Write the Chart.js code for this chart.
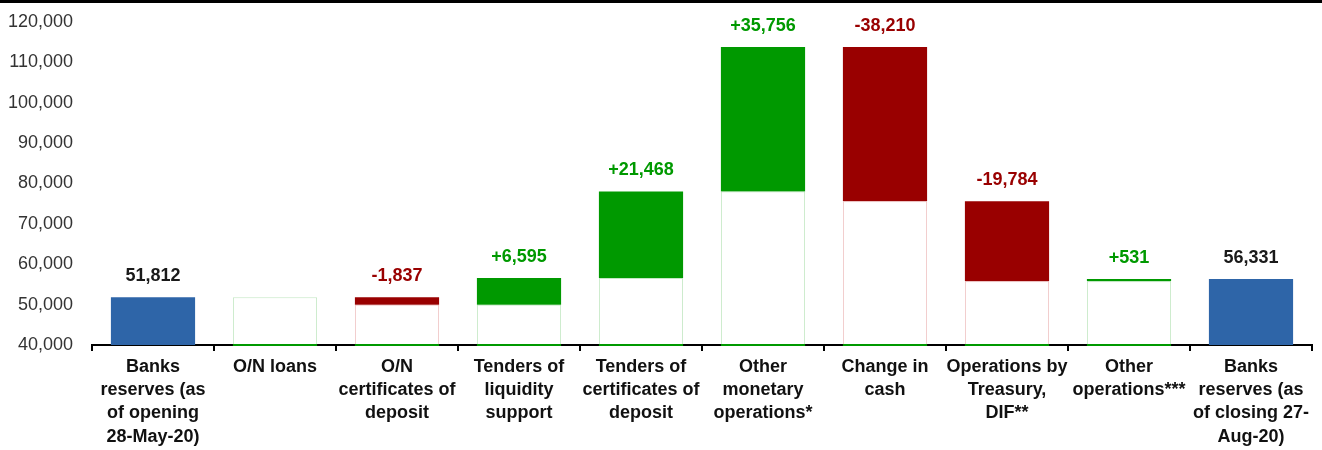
<!DOCTYPE html>
<html>
<head>
<meta charset="utf-8">
<script src="https://cdn.jsdelivr.net/npm/chart.js@4.4.1/dist/chart.umd.min.js"></script>
<style>
  body { margin: 0; background: #fff; }
  #wrap { width: 1322px; height: 447px; border-top: 3px solid #000; }
</style>
</head>
<body>
<div id="wrap"><canvas id="chart" width="1322" height="447"></canvas></div>
<script>
const categories = [
    ['Banks', 'reserves (as', 'of opening', '28-May-20)'],
    ['O/N loans'],
    ['O/N', 'certificates of', 'deposit'],
    ['Tenders of', 'liquidity', 'support'],
    ['Tenders of', 'certificates of', 'deposit'],
    ['Other', 'monetary', 'operations*'],
    ['Change in', 'cash'],
    ['Operations by', 'Treasury,', 'DIF**'],
    ['Other', 'operations***'],
    ['Banks', 'reserves (as', 'of closing 27-', 'Aug-20)']
];
const openingReserves = 51812;
const closingReserves = 56331;
// changes between opening and closing (null = total column)
const changes = [null, 0, -1837, 6595, 21468, 35756, -38210, -19784, 531, null];
const yTicks = [40000, 120000, 10000]; // min, max, step

const GREEN = '#009900', RED = '#990000', BLUE = '#2E65A8';
const FONT = '"Liberation Sans", Arial, Helvetica, sans-serif';

// build waterfall ranges
let level = openingReserves;
const baseData = [], deltaData = [], deltaColors = [], baseBorders = [], labelTexts = [], labelColors = [];
changes.forEach((c, i) => {
    if (c === null) {
        const v = i === 0 ? openingReserves : closingReserves;
        baseData.push(null);
        deltaData.push([yTicks[0], v]);
        deltaColors.push(BLUE);
        baseBorders.push('rgba(0,0,0,0)');
        labelTexts.push(v.toLocaleString('en-US'));
        labelColors.push('#1a1a1a');
    } else {
        const next = level + c;
        const lo = Math.min(level, next), hi = Math.max(level, next);
        baseData.push([yTicks[0], lo]);
        deltaData.push(c === 0 ? null : [lo, hi]);
        deltaColors.push(c < 0 ? RED : GREEN);
        baseBorders.push(c < 0 ? '#f0c4c4' : '#c4e8c4');
        labelTexts.push(c === 0 ? '' : (c > 0 ? '+' : '-') + Math.abs(c).toLocaleString('en-US'));
        labelColors.push(c < 0 ? RED : GREEN);
        level = next;
    }
});

const waterfallLabels = {
    id: 'waterfallLabels',
    afterDatasetsDraw(chart) {
        const ctx = chart.ctx;
        const baseMeta = chart.getDatasetMeta(0);
        const deltaMeta = chart.getDatasetMeta(1);
        ctx.save();
        // dark green line at the foot of the white base bars
        baseMeta.data.forEach((el, i) => {
            if (baseData[i] === null) return;
            ctx.fillStyle = GREEN;
            ctx.fillRect(el.x - el.width / 2, el.base - 1, el.width, 2);
        });
        ctx.font = 'bold 18px ' + FONT;
        ctx.textAlign = 'center';
        ctx.textBaseline = 'alphabetic';
        labelTexts.forEach((t, i) => {
            if (!t) return;
            const el = deltaMeta.data[i];
            const top = Math.min(el.y, el.base);
            ctx.fillStyle = labelColors[i];
            ctx.fillText(t, el.x, top - 16);
        });
        ctx.restore();
    }
};

new Chart(document.getElementById('chart'), {
    type: 'bar',
    data: {
        labels: categories,
        datasets: [
            {
                data: baseData,
                backgroundColor: '#ffffff',
                borderColor: baseBorders,
                borderWidth: 1,
                borderSkipped: false,
                grouped: false,
                categoryPercentage: 1,
                barPercentage: 0.69
            },
            {
                data: deltaData,
                backgroundColor: deltaColors,
                borderWidth: 0,
                grouped: false,
                categoryPercentage: 1,
                barPercentage: 0.69
            }
        ]
    },
    options: {
        responsive: false,
        animation: false,
        layout: { padding: { top: 19, right: 10, left: 0, bottom: 0 } },
        plugins: { legend: { display: false }, tooltip: { enabled: false } },
        scales: {
            x: {
                offset: true,
                grid: { display: true, drawOnChartArea: false, drawTicks: true, tickLength: 6, offset: true, color: '#000', lineWidth: 2 },
                border: { display: true, color: '#000', width: 2 },
                ticks: {
                    color: '#111',
                    font: { family: FONT, size: 18, weight: 'bold', lineHeight: 1.3 },
                    padding: 4,
                    maxRotation: 0,
                    autoSkip: false
                },
                afterFit: s => { s.height = 105; }
            },
            y: {
                min: yTicks[0],
                max: yTicks[1],
                grid: { display: false, drawTicks: false, tickLength: 0 },
                border: { display: false },
                ticks: {
                    stepSize: yTicks[2],
                    color: '#333',
                    padding: 19,
                    font: { family: FONT, size: 18 },
                    callback: v => v.toLocaleString('en-US')
                },
                afterFit: s => { s.width = 92; s.paddingTop = 0; s.paddingBottom = 0; }
            }
        }
    },
    plugins: [waterfallLabels]
});
</script>
</body>
</html>
